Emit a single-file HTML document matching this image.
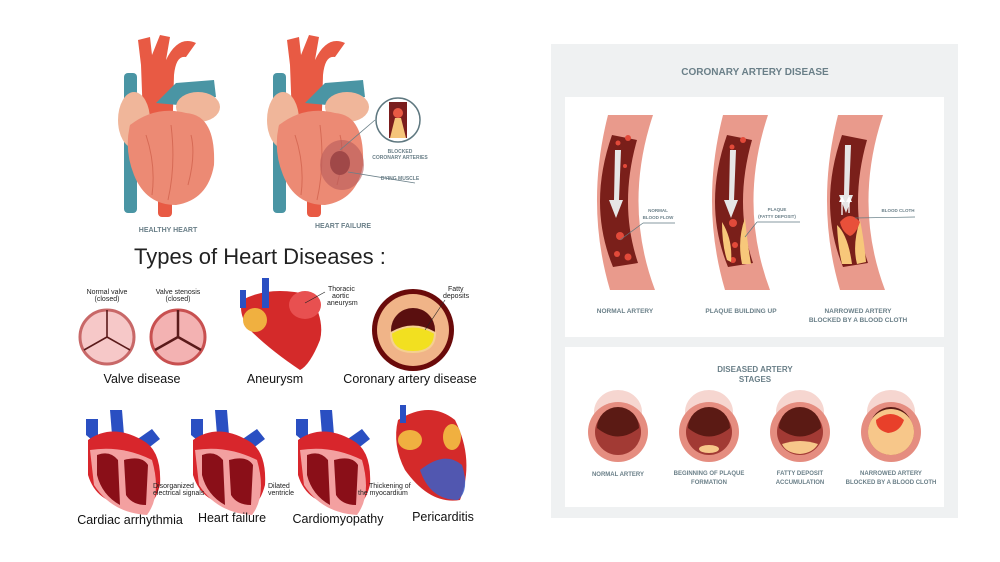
<!DOCTYPE html>
<html><head><meta charset="utf-8"><style>
html,body{margin:0;padding:0;background:#fff;width:1000px;height:562px;overflow:hidden}
svg{display:block}
.t{font-family:"Liberation Sans",sans-serif}
.g{fill:#6a7f88;font-family:"Liberation Sans",sans-serif;font-weight:bold}
</style></head><body>
<svg width="1000" height="562" viewBox="0 0 1000 562">
<defs>
<g id="heart">
 <rect x="8" y="48" width="13" height="140" rx="4" fill="#4a95a4"/>
 <rect x="42" y="150" width="14" height="42" rx="4" fill="#e85a44"/>
 <path d="M25 40 L22 15 L34 12 L36 30 L44 10 L54 12 L50 35 Q62 10 80 18 L70 32 Q60 30 58 50 L56 120 L28 120 Z" fill="#e85a44"/>
 <path d="M40 78 L60 58 L98 55 L100 72 L62 80 Z" fill="#4a95a4"/>
 <ellipse cx="18" cy="95" rx="16" ry="28" fill="#f0b69a"/>
 <ellipse cx="82" cy="82" rx="22" ry="15" fill="#f0b69a"/>
 <path d="M14 100 Q40 80 70 88 Q100 90 98 140 Q92 175 60 180 Q30 180 18 150 Q8 125 14 100 Z" fill="#ec8a74"/>
 <path d="M30 110 Q40 140 36 170 M55 100 Q60 140 52 175 M75 110 Q80 130 72 160" stroke="#d66a55" stroke-width="1" fill="none"/>
</g>
<g id="rh">
 <path d="M30 30 L28 5 L40 5 L42 30 Z" fill="#2a4fc2"/>
 <path d="M4 30 L4 14 L16 14 L16 40 Z" fill="#2a4fc2"/>
 <path d="M50 38 L70 24 L78 34 L60 48 Z" fill="#2a4fc2"/>
 <path d="M6 35 Q30 18 60 35 Q80 45 78 80 Q70 110 50 100 Q15 100 6 70 Z" fill="#d8262c"/>
 <path d="M8 45 Q40 40 70 55 Q80 90 65 110 Q30 108 12 80 Z" fill="#f3a0a0"/>
 <path d="M15 50 Q28 45 36 55 L38 100 Q20 90 15 70 Z M42 55 Q60 50 66 60 L64 100 Q50 100 44 90 Z" fill="#8a0f18"/>
</g>
<g id="art">
 <path d="M608 115 Q585 205 610 290 L655 290 Q623 205 653 115 Z" fill="#e99a8c"/>
 <path d="M612 135 Q587.5 205 613 267 L638 263 Q618.5 205 637 140 Z" fill="#7a1f1a"/>
</g>
<g id="arrow"><path d="M615 150 L614 200 L609 200 L616 218 L623 200 L619 200 L621 150 Z" fill="#e6e6e6"/></g>
<g id="ring"><ellipse cx="618" cy="412" rx="24" ry="22" fill="#f6d6d0"/><circle cx="618" cy="432" r="30" fill="#e58d80"/><circle cx="618" cy="432" r="23" fill="#a23a34"/><path d="M597 428 A21 21 0 0 1 639 428 Q618 445 597 428 Z" fill="#5b1a14"/></g>
</defs>

<!-- top hearts -->
<use href="#heart" x="116" y="25"/>
<use href="#heart" x="265" y="25"/>
<ellipse cx="342" cy="165" rx="22" ry="25" fill="#b85c5c" opacity=".6"/>
<ellipse cx="340" cy="163" rx="10" ry="12" fill="#a04848"/>
<line x1="340" y1="150" x2="375" y2="120" stroke="#6a7f88" stroke-width=".8"/>
<line x1="348" y1="172" x2="415" y2="183" stroke="#6a7f88" stroke-width=".8"/>
<circle cx="398" cy="120" r="22" fill="#fff" stroke="#5f7880" stroke-width="1.5"/>
<rect x="389" y="102" width="18" height="36" fill="#7a1d1d"/>
<path d="M390 138 L395 118 L401 118 L406 138 Z" fill="#f5c57a"/>
<ellipse cx="398" cy="113" rx="5" ry="5" fill="#e85a44"/>
<text class="g" x="400" y="153" font-size="5" text-anchor="middle">BLOCKED</text>
<text class="g" x="400" y="159" font-size="5" text-anchor="middle">CORONARY ARTERIES</text>
<text class="g" x="400" y="180" font-size="5" text-anchor="middle">DYING MUSCLE</text>
<text class="g" x="168" y="232" font-size="7" text-anchor="middle">HEALTHY HEART</text>
<text class="g" x="343" y="228" font-size="7" text-anchor="middle">HEART FAILURE</text>

<text class="t" x="134" y="264" font-size="22" fill="#222">Types of Heart Diseases :</text>

<!-- valves -->
<text class="t" x="107" y="294" font-size="7" text-anchor="middle" fill="#222">Normal valve</text>
<text class="t" x="107" y="301" font-size="7" text-anchor="middle" fill="#222">(closed)</text>
<text class="t" x="178" y="294" font-size="7" text-anchor="middle" fill="#222">Valve stenosis</text>
<text class="t" x="178" y="301" font-size="7" text-anchor="middle" fill="#222">(closed)</text>
<circle cx="107" cy="337" r="27" fill="#f6c8c8" stroke="#c86868" stroke-width="3"/>
<path d="M107 310 L107 337 L84 350 M107 337 L130 350" stroke="#5a1a1a" stroke-width="1.6" fill="none"/>
<circle cx="178" cy="337" r="27" fill="#f3b2b2" stroke="#c85050" stroke-width="3"/>
<path d="M178 310 L178 337 L155 350 M178 337 L201 350" stroke="#5a1a1a" stroke-width="2.5" fill="none"/>
<text class="t" x="142" y="383" font-size="12.5" text-anchor="middle" fill="#111">Valve disease</text>

<!-- aneurysm -->
<path d="M242 300 Q270 285 310 295 Q325 320 320 340 Q310 365 300 370 Q270 350 250 330 Q238 315 242 300 Z" fill="#d42a2a"/>
<ellipse cx="305" cy="305" rx="16" ry="14" fill="#e85050"/>
<ellipse cx="255" cy="320" rx="12" ry="12" fill="#f0b040"/>
<rect x="262" y="278" width="7" height="30" fill="#2a4fc2"/>
<rect x="240" y="290" width="6" height="18" fill="#2a4fc2"/>
<text class="t" x="328" y="291" font-size="7" fill="#222">Thoracic</text>
<text class="t" x="332" y="298" font-size="7" fill="#222">aortic</text>
<text class="t" x="327" y="305" font-size="7" fill="#222">aneurysm</text>
<line x1="325" y1="292" x2="305" y2="303" stroke="#222" stroke-width=".6"/>
<text class="t" x="275" y="383" font-size="12.5" text-anchor="middle" fill="#111">Aneurysm</text>

<!-- coronary -->
<circle cx="413" cy="330" r="41" fill="#6a0a0a"/>
<circle cx="413" cy="330" r="36" fill="#f0b488"/>
<circle cx="413" cy="330" r="22" fill="#5a0f0f"/>
<path d="M391 333 Q413 320 435 333 Q435 352 413 352 Q391 352 391 333 Z" fill="#f2e020" stroke="#f5d090" stroke-width="2"/>
<text class="t" x="448" y="291" font-size="7" fill="#222">Fatty</text>
<text class="t" x="443" y="298" font-size="7" fill="#222">deposits</text>
<line x1="445" y1="300" x2="425" y2="330" stroke="#222" stroke-width=".6"/>
<text class="t" x="410" y="383" font-size="12.5" text-anchor="middle" fill="#111">Coronary artery disease</text>

<!-- row 3 -->
<use href="#rh" x="82" y="405"/>
<use href="#rh" x="187" y="405"/>
<use href="#rh" x="292" y="405"/>
<path d="M398 420 Q430 400 455 420 Q475 460 460 500 Q430 505 405 470 Q392 445 398 420 Z" fill="#d42a2a"/>
<path d="M420 470 Q445 450 462 465 Q470 490 458 500 Q430 500 420 470 Z" fill="#3a5fc8" opacity=".85"/>
<ellipse cx="410" cy="440" rx="12" ry="10" fill="#f0b040"/>
<ellipse cx="452" cy="437" rx="9" ry="13" fill="#f0b040"/>
<rect x="400" y="405" width="6" height="18" fill="#2a4fc2"/>
<text class="t" x="153" y="488" font-size="7" fill="#222">Disorganized</text>
<text class="t" x="153" y="495" font-size="7" fill="#222">electrical signals</text>
<text class="t" x="268" y="488" font-size="7" fill="#222">Dilated</text>
<text class="t" x="268" y="495" font-size="7" fill="#222">ventricle</text>
<text class="t" x="369" y="488" font-size="7" fill="#222">Thickening of</text>
<text class="t" x="358" y="495" font-size="7" fill="#222">the myocardium</text>
<text class="t" x="130" y="524" font-size="12.5" text-anchor="middle" fill="#111">Cardiac arrhythmia</text>
<text class="t" x="232" y="522" font-size="12.5" text-anchor="middle" fill="#111">Heart failure</text>
<text class="t" x="338" y="523" font-size="12.5" text-anchor="middle" fill="#111">Cardiomyopathy</text>
<text class="t" x="443" y="521" font-size="12.5" text-anchor="middle" fill="#111">Pericarditis</text>

<!-- right panel -->
<rect x="551" y="44" width="407" height="474" fill="#eff1f2"/>
<text class="g" x="755" y="75" font-size="10" text-anchor="middle">CORONARY ARTERY DISEASE</text>
<rect x="565" y="97" width="379" height="240" fill="#fff"/>
<rect x="565" y="347" width="379" height="160" fill="#fff"/>

<use href="#art"/>
<use href="#art" x="115"/>
<use href="#art" x="230"/>
<use href="#arrow"/>
<use href="#arrow" x="115"/>
<use href="#arrow" x="230" y="-5" transform="translate(0,0)"/>
<circle cx="620" cy="236" r="4" fill="#e24a3a"/><circle cx="617" cy="254" r="3" fill="#e24a3a"/><circle cx="628" cy="257" r="3.5" fill="#e24a3a"/><circle cx="628" cy="138" r="3" fill="#e24a3a"/><circle cx="618" cy="143" r="2.5" fill="#e24a3a"/><circle cx="625" cy="166" r="2" fill="#e24a3a"/>
<circle cx="733" cy="223" r="4" fill="#e24a3a"/><circle cx="733" cy="260" r="3" fill="#e24a3a"/><circle cx="743" cy="140" r="3" fill="#e24a3a"/><circle cx="732" cy="147" r="2.5" fill="#e24a3a"/><circle cx="735" cy="245" r="3" fill="#e24a3a"/>
<path d="M722 222 Q722 245 727 260 L731 262 Q733 240 722 222 Z M745 218 Q737 240 742 264 L751 264 Q747 240 745 218 Z" fill="#f7c77a"/>
<path d="M837 225 Q838 248 842 264 L852 264 Q848 235 837 225 Z M860 220 Q852 245 857 264 L866 262 Q864 240 860 220 Z" fill="#f7c77a"/>
<path d="M840 222 Q850 210 860 222 Q856 234 850 236 Q842 232 840 222 Z" fill="#e8503a"/>
<path d="M842 215 L842 200 M849 213 L849 200" stroke="#fff" stroke-width="1.3"/>
<path d="M839 202 L842 196 L845 202 Z M846 202 L849 196 L852 202 Z" fill="#fff"/>
<line x1="620" y1="240" x2="643" y2="223" stroke="#5f7880" stroke-width=".7"/><line x1="643" y1="223" x2="675" y2="223" stroke="#5f7880" stroke-width=".7"/>
<line x1="745" y1="237" x2="757" y2="222" stroke="#5f7880" stroke-width=".7"/><line x1="757" y1="222" x2="800" y2="222" stroke="#5f7880" stroke-width=".7"/>
<line x1="855" y1="218" x2="915" y2="217" stroke="#5f7880" stroke-width=".7"/>
<g class="g" font-size="4.5" text-anchor="middle">
<text x="658" y="212">NORMAL</text><text x="658" y="219">BLOOD FLOW</text>
<text x="777" y="211">PLAQUE</text><text x="777" y="218">(FATTY DEPOSIT)</text>
<text x="898" y="212">BLOOD CLOTH</text>
</g>
<g class="g" font-size="6.5" text-anchor="middle">
<text x="625" y="313">NORMAL ARTERY</text>
<text x="741" y="313">PLAQUE BUILDING UP</text>
<text x="858" y="313">NARROWED ARTERY</text><text x="858" y="322">BLOCKED BY A BLOOD CLOTH</text>
</g>
<g class="g" font-size="8" text-anchor="middle"><text x="755" y="372">DISEASED ARTERY</text><text x="755" y="382">STAGES</text></g>

<use href="#ring"/><use href="#ring" x="91"/><use href="#ring" x="182"/><use href="#ring" x="273"/>
<ellipse cx="709" cy="449" rx="10" ry="4" fill="#f7c78a"/>
<path d="M782 444 Q800 438 818 444 Q813 453 800 454 Q786 453 782 444 Z" fill="#f7c78a"/>
<circle cx="891" cy="432" r="23" fill="#f7c78a"/>
<path d="M876 420 Q891 408 904 420 Q900 432 888 433 Q876 430 876 420 Z" fill="#e8402a"/>
<g class="g" font-size="6" text-anchor="middle">
<text x="618" y="476">NORMAL ARTERY</text>
<text x="709" y="475">BEGINNING OF PLAQUE</text><text x="709" y="484">FORMATION</text>
<text x="800" y="475">FATTY DEPOSIT</text><text x="800" y="484">ACCUMULATION</text>
<text x="891" y="475">NARROWED ARTERY</text><text x="891" y="484">BLOCKED BY A BLOOD CLOTH</text>
</g>
</svg>
</body></html>
